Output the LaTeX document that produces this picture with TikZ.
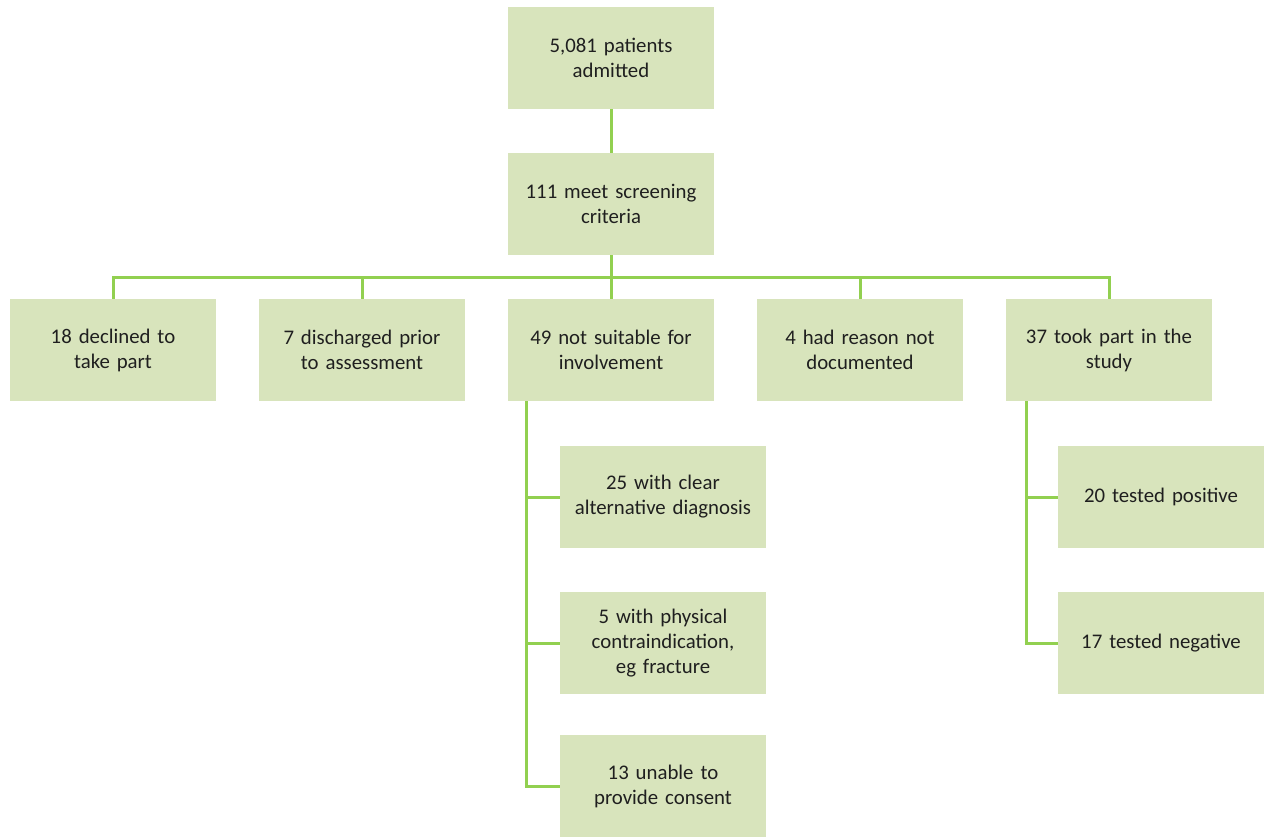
\documentclass[tikz,border=0pt]{standalone}
\usepackage{fontspec}
\setmainfont{Carlito}
\usetikzlibrary{calc}
\definecolor{boxfill}{HTML}{D8E4BC}
\definecolor{linegreen}{HTML}{92D050}
\definecolor{txt}{HTML}{1F1F1F}
\begin{document}
\begin{tikzpicture}[x=1pt,y=1pt,
  box/.style={fill=boxfill,draw=none,minimum width=206pt,minimum height=102pt,inner sep=0pt,
    text width=200pt,align=center,text=txt,font=\fontsize{20.8}{25}\selectfont},
  conn/.style={draw=linegreen,line width=3pt}]
\useasboundingbox (0,0) rectangle (1267,-837);
% top
\node[box] (a) at (611,-58) {5,081 patients\\admitted};
\node[box] (b) at (611,-204) {111 meet screening\\criteria};
% row
\node[box] (r1) at (113,-350) {18 declined to\\take part};
\node[box] (r2) at (362,-350) {7 discharged prior\\to assessment};
\node[box] (r3) at (611,-350) {49 not suitable for\\involvement};
\node[box] (r4) at (860,-350) {4 had reason not\\documented};
\node[box] (r5) at (1109,-350) {37 took part in the\\study};
% sub under r3
\node[box] (s1) at (663,-497) {25 with clear\\alternative diagnosis};
\node[box] (s2) at (663,-643) {5 with physical\\contraindication,\\eg fracture};
\node[box] (s3) at (663,-786) {13 unable to\\provide consent};
% sub under r5
\node[box] (p1) at (1161,-497) {20 tested positive};
\node[box] (p2) at (1161,-643) {17 tested negative};
% connectors
\draw[conn] (a.south) -- (b.north);
\coordinate (bus) at (611,-278);
\draw[conn] (b.south) -- (bus);
\draw[conn] (r1.north) |- (bus) -| (r5.north);
\draw[conn] (r2.north) -- (r2.north |- bus);
\draw[conn] (r3.north) -- (bus);
\draw[conn] (r4.north) -- (r4.north |- bus);
\coordinate (t3) at ($(r3.south west)+(19,0)$);
\draw[conn] (t3) |- (s3.west);
\draw[conn] (s1.west) -- (s1.west -| t3);
\draw[conn] (s2.west) -- (s2.west -| t3);
\coordinate (t5) at ($(r5.south west)+(21,0)$);
\draw[conn] (t5) |- (p2.west);
\draw[conn] (p1.west) -- (p1.west -| t5);
\end{tikzpicture}
\end{document}
